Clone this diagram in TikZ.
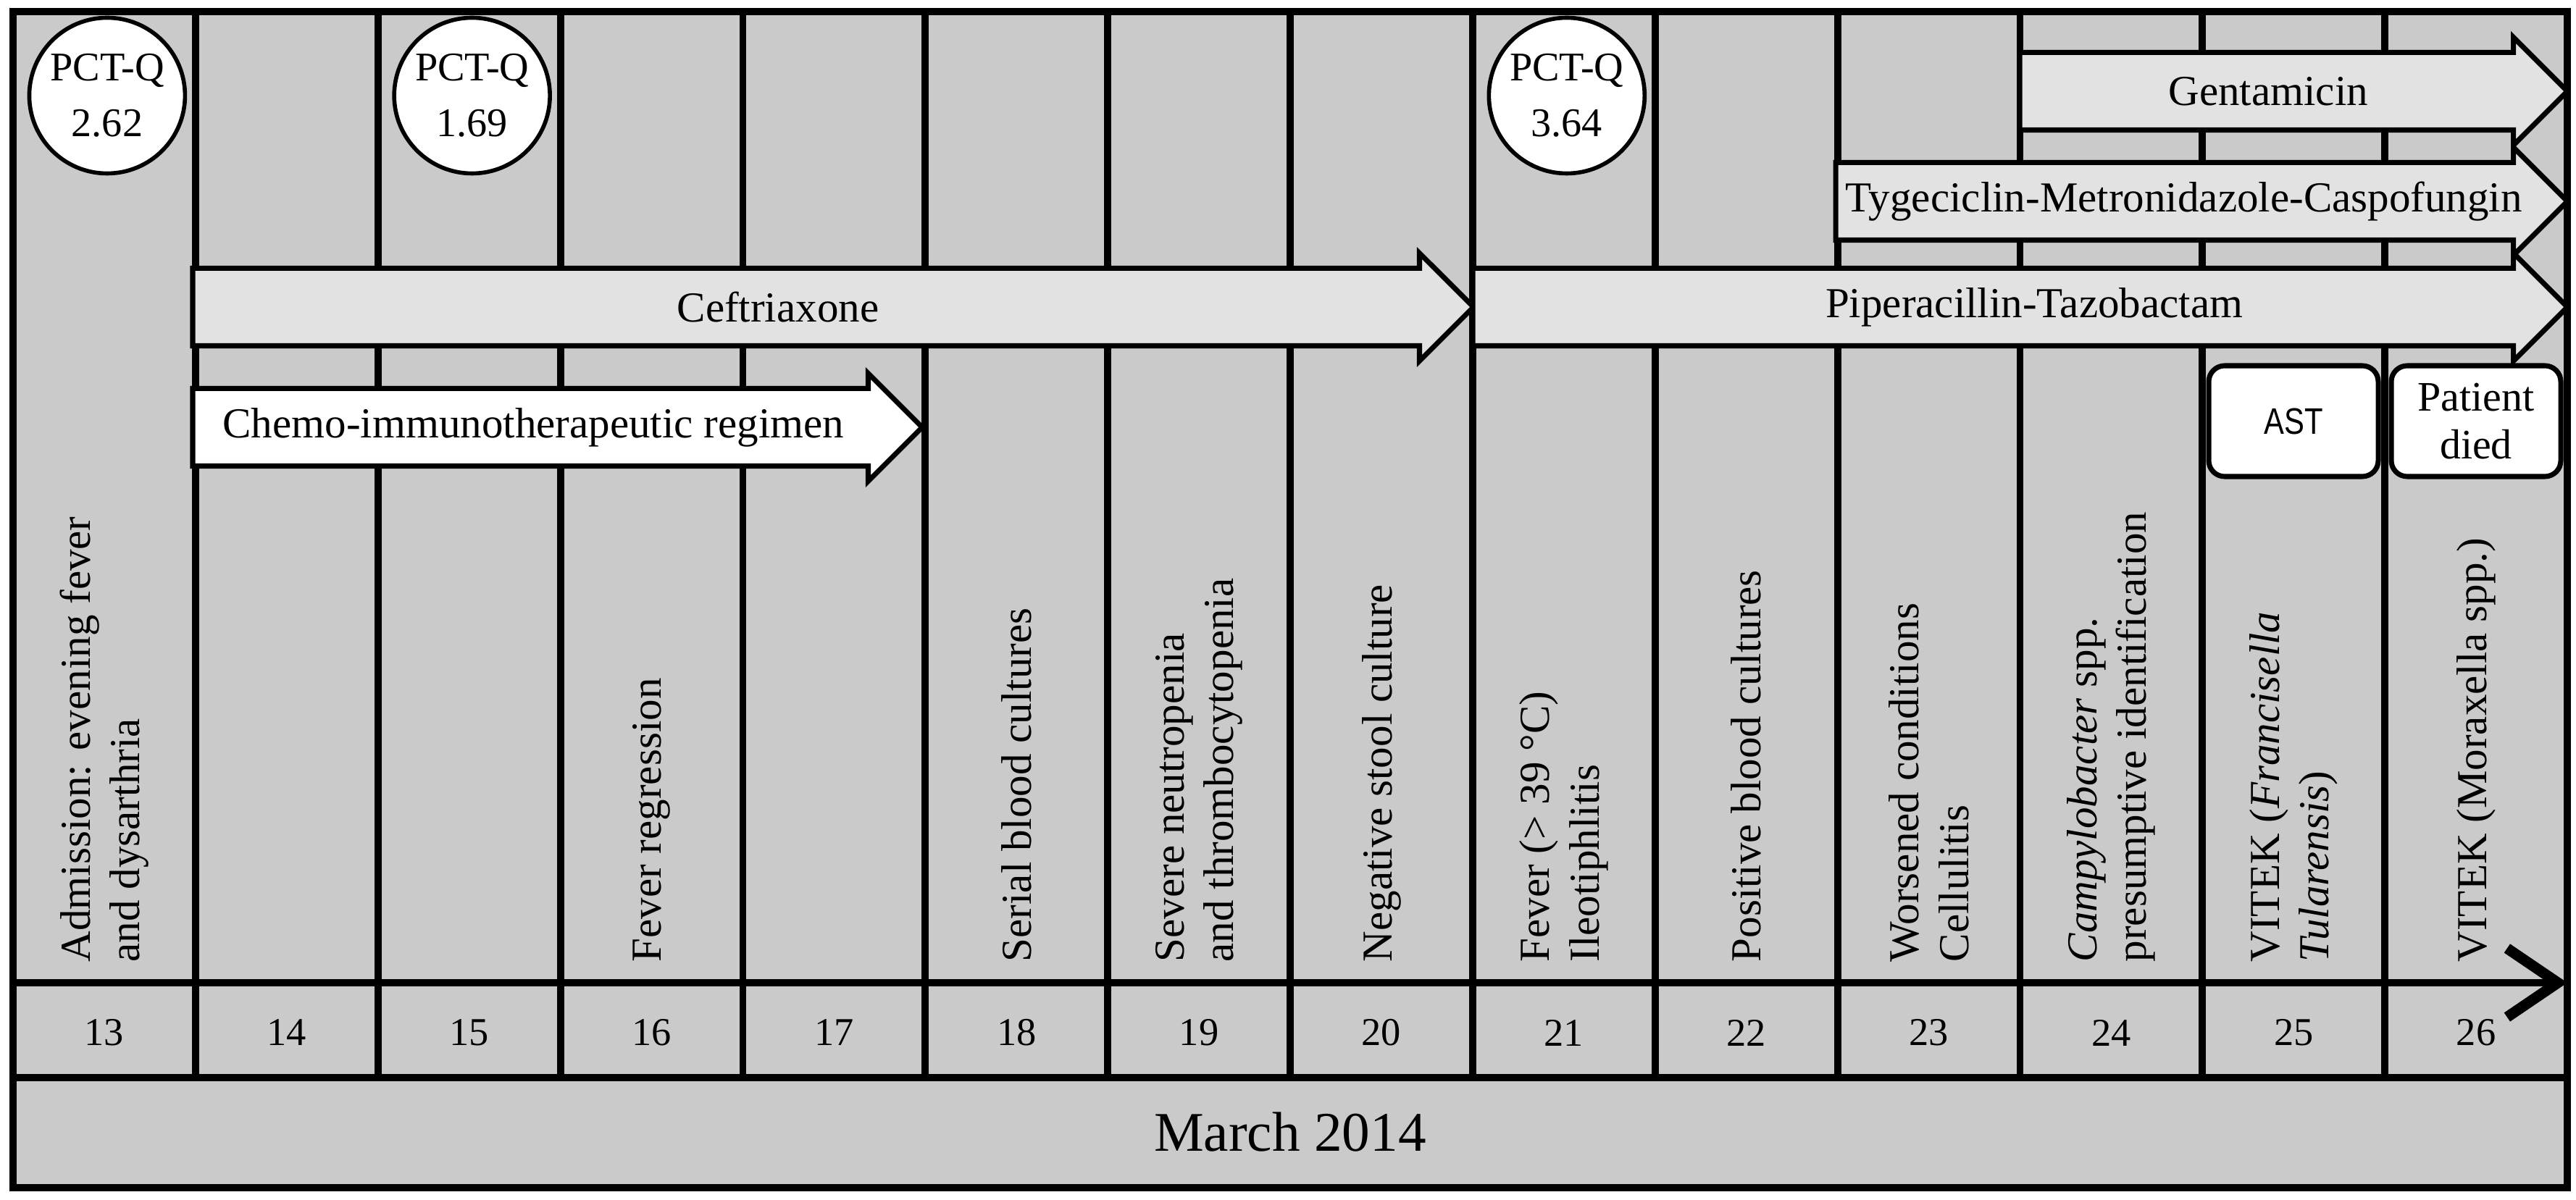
\documentclass[tikz,border=0pt]{standalone}
\usepackage{fontspec}
\setmainfont{Liberation Serif}
\newfontfamily\narrowsans[FakeStretch=0.82]{Liberation Sans}
\usetikzlibrary{shapes.arrows, arrows.meta, positioning, calc}
\definecolor{cellgray}{RGB}{202,202,202}
\definecolor{barfill}{RGB}{226,226,226}

\begin{document}
\begin{tikzpicture}[
    gridline/.style={draw=black, line width=2.8pt},
    timeline/.style={line width=2.8pt, -{Straight Barb[length=0.7cm, width=0.95cm, line width=4.2pt]}},
    drug/.style={single arrow, draw=black, line width=2pt, fill=barfill, single arrow head extend=0.21cm, single arrow tip angle=90, single arrow head indent=0pt, inner sep=0pt, outer sep=0pt, text height=0.5cm, text depth=0.5cm, anchor=tail, minimum height=#1},
    druglabel/.style={inner sep=0pt, font=\fontsize{16.8}{20}\selectfont},
    pct/.style={circle, draw=black, line width=1.6pt, fill=white, minimum size=2.15cm, inner sep=0pt, align=center, font=\fontsize{16}{21.8}\selectfont},
    result/.style={rectangle, rounded corners=0.22cm, draw=black, line width=2pt, fill=white, minimum width=2.34cm, minimum height=1.53cm, inner sep=0pt, align=center},
    event/.style={rotate=90, anchor=west, inner sep=0pt, align=left, font=\fontsize{16.8}{19.5}\selectfont},
    day/.style={inner sep=0pt, font=\fontsize{15.5}{18}\selectfont}
]
\useasboundingbox (0,0) rectangle (35.56,16.56);

% frame and columns
\fill[cellgray] (0.18,0.16) rectangle (35.44,16.40);
\foreach \d in {14,...,26}
    \draw[gridline] ({0.18+(\d-13)*2.5186},16.40) -- ({0.18+(\d-13)*2.5186},1.68);
\draw[gridline] (0.18,1.68) -- (35.44,1.68);
\draw[gridline] (0.18,0.16) rectangle (35.44,16.40);

% time axis
\coordinate (tstart) at (0.18,2.99);
\coordinate (tend) at (35.44,2.99);
\draw[timeline] (tstart) -- (tend);

\foreach \d in {13,...,26}{
    \pgfmathsetmacro{\cx}{0.18+(\d-12.5)*2.5186}
    \coordinate (base\d) at (\cx,3.27);
    \coordinate (head\d) at ({\cx+0.04},15.24);
    \node (day\d) [day] at (\cx,2.30) {\d};
}
\node (month) [inner sep=0pt, font=\fontsize{22}{26}\selectfont] at (17.81,0.93) {March 2014};

% therapies
\node (ceft) [drug=17.68cm] at (2.66,12.32) {};
\node (pipe) [drug=15.11cm] at (20.33,12.32) {};
\node (tyge) [drug=10.10cm] at (25.34,13.78) {};
\node (gent) [drug=7.56cm] at (27.88,15.30) {};
\node (chemo) [drug=10.07cm, fill=white] at (2.66,10.66) {};
\node (ceftlbl) [druglabel] at ($(ceft.tail)!0.457!(ceft.tip)$) {Ceftriaxone};
\node (pipelbl) [druglabel] at ($(pipe.tail)!0.513!(pipe.tip)$) {Piperacillin-Tazobactam};
\node (tygelbl) [druglabel] at ($(tyge.tail)!0.476!(tyge.tip)$) {Tygeciclin-Metronidazole-Caspofungin};
\node (gentlbl) [druglabel] at ($(gent.tail)!0.454!(gent.tip)$) {Gentamicin};
\node (chemolbl) [druglabel] at ($(chemo.tail)!0.467!(chemo.tip)$) {Chemo-immunotherapeutic regimen};

% procalcitonin
\node (pct13) [pct] at (head13) {PCT-Q\\2.62};
\node (pct15) [pct] at (head15) {PCT-Q\\1.69};
\node (pct21) [pct] at (head21) {PCT-Q\\3.64};

% lab results
\node (ast) [result, font=\narrowsans\fontsize{14.5}{17}\selectfont] at (31.66,10.745) {AST};
\node (died) [result, font=\fontsize{16.5}{19}\selectfont] at (34.18,10.745) {Patient\\died};

% daily events
\node (ev13) [event] at (base13) {Admission: evening fever\\and dysarthria};
\node (ev16) [event] at (base16) {Fever regression};
\node (ev18) [event] at (base18) {Serial blood cultures};
\node (ev19) [event] at (base19) {Severe neutropenia\\and thrombocytopenia};
\node (ev20) [event] at (base20) {Negative stool culture};
\node (ev21) [event] at (base21) {Fever (> 39 °C)\\Ileotiphlitis};
\node (ev22) [event] at (base22) {Positive blood cultures};
\node (ev23) [event] at (base23) {Worsened conditions\\Cellulitis};
\node (ev24) [event] at (base24) {\textit{Campylobacter} spp.\\presumptive identification};
\node (ev25) [event] at (base25) {VITEK (\textit{Francisella}\\\textit{Tularensis})};
\node (ev26) [event] at (base26) {VITEK (Moraxella spp.)};
\end{tikzpicture}
\end{document}
